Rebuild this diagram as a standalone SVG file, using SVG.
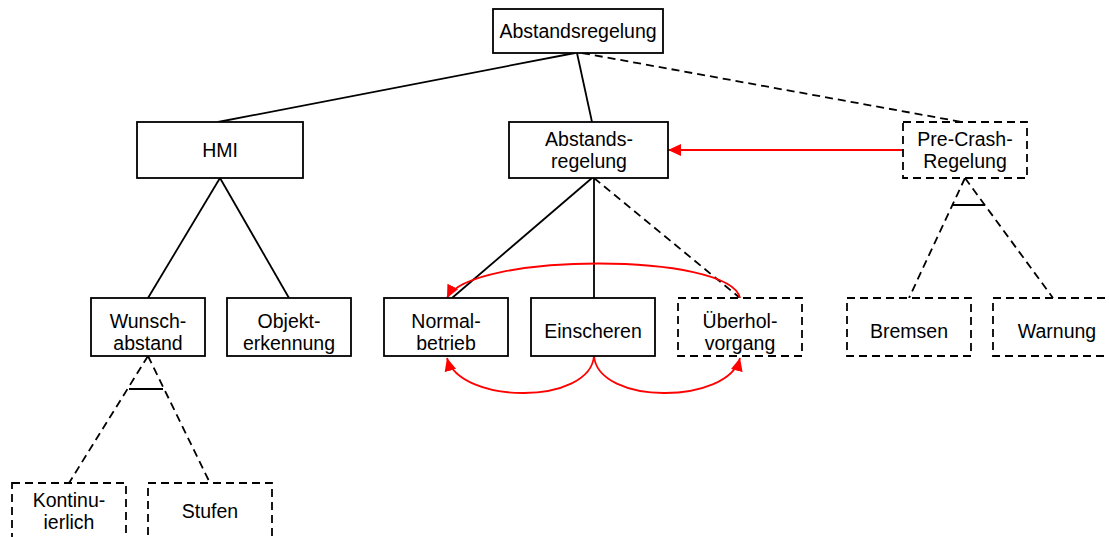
<svg xmlns="http://www.w3.org/2000/svg" width="1109" height="537" viewBox="0 0 1109 537">
<style>
.box{fill:#fff;stroke:#000;stroke-width:1.8}
.dbox{fill:#fff;stroke:#000;stroke-width:1.8;stroke-dasharray:8 5}
.t{font-family:"Liberation Sans",Arial,sans-serif;font-size:19.5px;fill:#000;text-anchor:middle}
.ln{fill:none;stroke:#000;stroke-width:1.8}
.dl{fill:none;stroke:#000;stroke-width:1.8;stroke-dasharray:8 5}
.red{fill:none;stroke:#f00;stroke-width:1.8}
</style>
<defs>
<marker id="ah" markerUnits="userSpaceOnUse" markerWidth="14" markerHeight="12" refX="13" refY="6" orient="auto">
<path d="M0,0 L13,6 L0,12 Z" fill="#f00"/>
</marker>
</defs>
<g id="connectors">
<path class="ln" d="M575,53 L218,122"/>
<path class="ln" d="M577,53 L592,122"/>
<path class="dl" d="M582,53 L962,122"/>
<path class="ln" d="M220,178 L148,298"/>
<path class="ln" d="M220,178 L289,298"/>
<path class="ln" d="M592,178 L452,298"/>
<path class="ln" d="M594,178 L594,298"/>
<path class="dl" d="M594,178 L740,298"/>
<path class="dl" d="M965,178 L909,298"/>
<path class="dl" d="M965,178 L1053,298"/>
<path class="ln" d="M952,205 L985,205"/>
<path class="dl" d="M148,356 L69,483"/>
<path class="dl" d="M148,356 L210,483"/>
<path class="ln" d="M129,389 L163,389"/>
<path class="red" d="M903,150 L668,150" marker-end="url(#ah)"/>
<path class="red" d="M740,298 C730,252 470,252 447,298" marker-end="url(#ah)"/>
<path class="red" d="M594,356 C590,405 460,405 447,358" marker-end="url(#ah)"/>
<path class="red" d="M594,356 C598,405 728,405 740,358" marker-end="url(#ah)"/>
</g>
<g id="n-root"><rect class="box" x="493" y="9" width="170" height="44"/><text class="t" x="578" y="38">Abstandsregelung</text></g>
<g id="n-hmi"><rect class="box" x="137" y="122" width="166" height="56"/><text class="t" x="220" y="157">HMI</text></g>
<g id="n-abst"><rect class="box" x="509" y="122" width="159" height="56"/><text class="t" x="589" y="146">Abstands-</text><text class="t" x="589" y="168">regelung</text></g>
<g id="n-precrash"><rect class="dbox" x="903" y="122" width="124" height="56"/><text class="t" x="965" y="146">Pre-Crash-</text><text class="t" x="965" y="168">Regelung</text></g>
<g id="n-wunsch"><rect class="box" x="91" y="298" width="114" height="58"/><text class="t" x="148" y="328">Wunsch-</text><text class="t" x="148" y="350">abstand</text></g>
<g id="n-objekt"><rect class="box" x="227" y="298" width="124" height="58"/><text class="t" x="289" y="328">Objekt-</text><text class="t" x="289" y="350">erkennung</text></g>
<g id="n-normal"><rect class="box" x="384" y="298" width="124" height="58"/><text class="t" x="446" y="328">Normal-</text><text class="t" x="446" y="350">betrieb</text></g>
<g id="n-einscheren"><rect class="box" x="531" y="298" width="124" height="58"/><text class="t" x="593" y="338">Einscheren</text></g>
<g id="n-ueberhol"><rect class="dbox" x="678" y="298" width="124" height="58"/><text class="t" x="740" y="328">Überhol-</text><text class="t" x="740" y="350">vorgang</text></g>
<g id="n-bremsen"><rect class="dbox" x="847" y="298" width="124" height="58"/><text class="t" x="909" y="338">Bremsen</text></g>
<g id="n-warnung"><rect class="dbox" x="993" y="298" width="124" height="58"/><text class="t" x="1057" y="338">Warnung</text></g>
<g id="n-kontinu"><rect class="dbox" x="12" y="483" width="114" height="58"/><text class="t" x="69" y="507">Kontinu-</text><text class="t" x="69" y="529">ierlich</text></g>
<g id="n-stufen"><rect class="dbox" x="148" y="483" width="124" height="58"/><text class="t" x="210" y="518">Stufen</text></g>
</svg>
